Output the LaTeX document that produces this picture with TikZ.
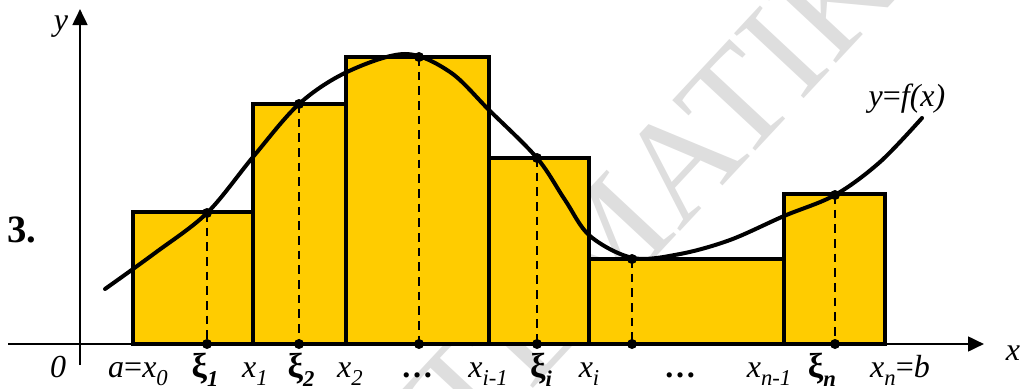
\documentclass[tikz,border=0pt]{standalone}
\usepackage{fontspec}
\setmainfont{Liberation Serif}
\usetikzlibrary{arrows.meta}
\definecolor{gold}{RGB}{255,204,0}
\definecolor{wmgray}{RGB}{222,222,222}
\newcommand\lowsub[1]{\raisebox{-0.28em}{\fontsize{17}{17}\selectfont #1}}
\begin{document}
\begin{tikzpicture}[x=0.75pt,y=-0.75pt,
  axis/.style={line width=2pt,-{Triangle[length=12pt,width=11pt]}},
  bar/.style={fill=gold,draw=black,line width=2.6pt},
  curve/.style={line width=3pt,line cap=round},
  guide/.style={line width=2.1pt,dash pattern=on 6.5pt off 4.5pt},
  dot/.style={circle,fill=black,inner sep=0pt,minimum size=7.5pt},
  lab/.style={anchor=base,inner sep=0pt,font=\fontsize{24}{28}\selectfont\itshape},
  xil/.style={anchor=base,inner sep=0pt,font=\fontsize{26}{28}\selectfont\bfseries},
  wm/.style={inner sep=0pt,text=wmgray,font=\fontsize{109}{109}\selectfont},
  ]
\useasboundingbox (0,0) rectangle (1028,389);
% watermark
\begin{scope}
\clip (0,0) rectangle (1028,389);
\node[wm,rotate=47] (wmark) at (614,232) {MATEMATIKA};
\end{scope}
% bars
\path[bar] (133,344) rectangle (253,212);
\path[bar] (253,344) rectangle (346,104);
\path[bar] (346,344) rectangle (489,57);
\path[bar] (489,344) rectangle (589,158);
\path[bar] (589,344) rectangle (784,259);
\path[bar] (784,344) rectangle (885,194);
% axes
\coordinate (xs) at (8,344);
\coordinate (xe) at (984,344);
\coordinate (ys) at (80,365);
\coordinate (ye) at (80,9);
\draw[axis] (xs) -- (xe);
\draw[axis] (ys) -- (ye);
% curve
\draw[curve] plot[smooth,tension=0.55] coordinates {(105,289) (155,253) (207,213) (253,157) (299,104) (347,72) (405,54) (450,72) (489,110) (537,158) (565,200) (590,236) (633,258) (680,254) (730,240) (784,216) (835,195) (880,162) (922,118)};
% sample points
\coordinate (p1) at (207,213); \coordinate (q1) at (207,344);
\coordinate (p2) at (299,104); \coordinate (q2) at (299,344);
\coordinate (p3) at (419,57);  \coordinate (q3) at (419,344);
\coordinate (p4) at (537,158); \coordinate (q4) at (537,344);
\coordinate (p5) at (632,259); \coordinate (q5) at (632,344);
\coordinate (p6) at (835,195); \coordinate (q6) at (835,344);
\foreach \i in {1,...,6}{
  \draw[guide] (p\i) -- (q\i);
  \node[dot] (dp\i) at (p\i) {};
  \node[dot] (dq\i) at (q\i) {};
}
% labels
\node[lab] (ly) at (61,31) {y};
\node[lab] (lx) at (1013,360) {x};
\node[lab] (l0) at (58,377) {0};
\node[xil,font=\fontsize{29}{32}\selectfont\bfseries] (l3) at (22,242) {3.};
\node[lab] (lf) at (907,106) {y\upshape=\itshape f(x)};
\node[lab] (la) at (138,377) {a\upshape=\itshape x\lowsub{0}};
\node[xil] (lxi1) at (205,377) {ξ\lowsub{\itshape 1}};
\node[lab] (lx1) at (255,377) {x\lowsub{1}};
\node[xil] (lxi2) at (301,377) {ξ\lowsub{\itshape 2}};
\node[lab] (lx2) at (350,377) {x\lowsub{2}};
\node[xil,font=\fontsize{24}{28}\selectfont\bfseries] (ld1) at (417,377) {…};
\node[lab] (lxim) at (488,377) {x\lowsub{i-1}};
\node[xil] (lxii) at (541,377) {ξ\lowsub{\itshape i}};
\node[lab] (lxi) at (589,377) {x\lowsub{i}};
\node[xil,font=\fontsize{24}{28}\selectfont\bfseries] (ld2) at (680,377) {…};
\node[lab] (lxnm) at (769,377) {x\lowsub{n-1}};
\node[xil] (lxin) at (822,377) {ξ\lowsub{\itshape n}};
\node[lab] (lxn) at (900,377) {x\lowsub{n}\upshape=\itshape b};
\end{tikzpicture}
\end{document}
